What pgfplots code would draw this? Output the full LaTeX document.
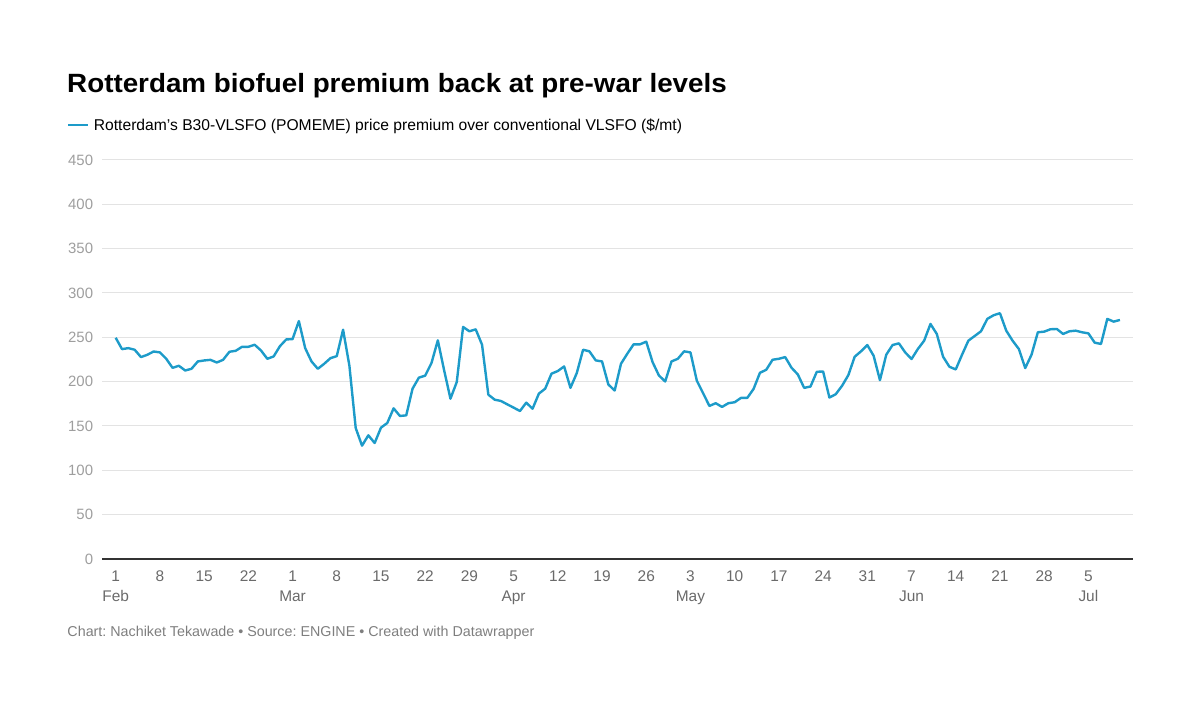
\documentclass[border=0pt]{standalone}
\usepackage{pgfplots}
\pgfplotsset{compat=1.18}
\usepackage{fontspec}
\setmainfont{Liberation Sans}
\newfontfamily\titlefont[FakeStretch=1.053]{Liberation Sans}
\frenchspacing
\definecolor{linec}{HTML}{1D9BC9}
\definecolor{gridc}{HTML}{E3E3E3}
\definecolor{ytxt}{HTML}{9E9E9E}
\definecolor{xtxt}{HTML}{6A6A6A}
\definecolor{foot}{HTML}{7E7E7E}
\definecolor{axisc}{HTML}{333333}

\pgfplotstableread{
day value
0 249.5
1 236.7
2 237.8
3 236.0
4 227.7
5 230.3
6 234.0
7 233.0
8 225.8
9 215.6
10 217.9
11 212.6
12 214.5
13 222.8
14 223.9
15 224.6
16 221.6
17 224.6
18 233.7
19 234.8
20 239.3
21 239.3
22 241.6
23 235.2
24 225.8
25 228.4
26 240.0
27 247.6
28 248.0
29 268.3
30 237.8
31 222.8
32 214.5
33 220.1
34 226.5
35 228.8
36 258.6
37 218.0
38 147.7
39 127.8
40 139.5
41 130.8
42 148.1
43 153.4
44 169.9
45 161.3
46 162.0
47 192.1
48 204.5
49 206.8
50 221.1
51 246.6
52 212.8
53 180.8
54 199.6
55 261.7
56 256.8
57 259.0
58 241.7
59 185.3
60 179.7
61 178.2
62 174.4
63 170.7
64 166.9
65 176.3
66 169.5
67 186.5
68 192.1
69 209.0
70 212.0
71 217.2
72 193.0
73 209.7
74 236.0
75 234.2
76 224.0
77 222.8
78 196.8
79 190.0
80 220.2
81 231.5
82 242.1
83 242.1
84 245.1
85 222.1
86 207.0
87 200.2
88 222.8
89 225.8
90 234.2
91 233.0
92 201.3
93 187.0
94 172.6
95 175.7
96 171.5
97 175.7
98 176.8
99 181.7
100 181.7
101 191.9
102 210.0
103 213.4
104 224.7
105 225.8
106 227.7
107 215.7
108 208.1
109 193.0
110 194.5
111 211.1
112 211.5
113 182.1
114 185.8
115 195.3
116 207.4
117 228.1
118 234.2
119 241.3
120 229.2
121 201.7
122 230.4
123 241.3
124 243.2
125 233.0
126 225.5
127 236.8
128 246.2
129 265.1
130 253.8
131 228.1
132 216.8
133 213.8
134 230.4
135 246.2
136 251.5
137 256.8
138 270.8
139 274.9
140 277.2
141 257.5
142 246.2
143 236.8
144 215.3
145 230.4
146 255.7
147 256.4
148 259.1
149 259.4
150 253.8
151 256.8
152 257.5
153 255.7
154 254.5
155 244.0
156 242.5
157 270.8
158 267.7
159 269.6
}\premium

\begin{document}
\begin{tikzpicture}[x=1bp,y=1bp]
\useasboundingbox (0,0) rectangle (1200,716);
\node[anchor=base west, inner sep=0, font=\titlefont\fontsize{26.5}{30}\selectfont\bfseries] at (67,623.7) {Rotterdam biofuel premium back at pre-war levels};
\node[anchor=base west, inner sep=0, text=foot, font=\fontsize{14.35}{18}\selectfont] at (67.3,79) {Chart: Nachiket Tekawade • Source: ENGINE • Created with Datawrapper};
\begin{axis}[
  at={(102bp,157bp)}, anchor=south west,
  scale only axis, width=1031bp, height=399bp,
  xmin=-2.17, xmax=161.07, ymin=0, ymax=450,
  axis x line*=bottom, axis y line*=left,
  x axis line style={draw=axisc, line width=1.5bp, -},
  y axis line style={draw=none},
  major tick length=0pt,
  ytick={0,50,...,450},
  ymajorgrids, grid style={draw=gridc, line width=1bp},
  xtick={0,7,...,154},
  xticklabels={1\\Feb,8,15,22,1\\Mar,8,15,22,29,5\\Apr,12,19,26,3\\May,10,17,24,31,7\\Jun,14,21,28,5\\Jul},
  yticklabel style={font=\fontsize{15}{18}\selectfont, text=ytxt, anchor=east, inner sep=0, xshift=-8.7bp},
  xticklabel style={font=\fontsize{15.5}{19.7}\selectfont, text=xtxt, align=center, anchor=north, inner sep=0, yshift=-11.7bp},
  /pgf/number format/assume math mode=true,
  legend style={at={(-0.034,1.0877)}, anchor=west, draw=none, fill=none, inner sep=0, outer sep=0,
     nodes={inner sep=0, text depth=0pt}, font=\fontsize{15.7}{18}\selectfont},
  legend cell align=left,
  legend image code/.code={\draw[#1, line width=2.5bp] (0bp,0bp) -- (19.7bp,0bp); \path (24.5bp,0bp);},
]
\addplot[color=linec, line width=2.4bp, line join=round] table[x=day, y=value] {\premium};
\addlegendentry{Rotterdam's B30-VLSFO (POMEME) price premium over conventional VLSFO (\$/mt)}
\end{axis}
\end{tikzpicture}
\end{document}
